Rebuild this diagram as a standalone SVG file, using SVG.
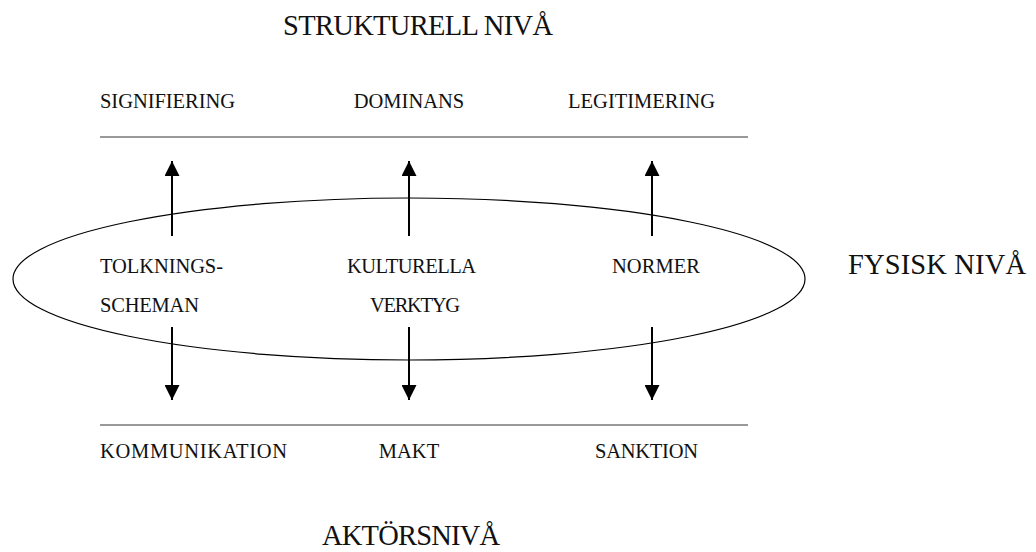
<svg xmlns="http://www.w3.org/2000/svg" width="1036" height="552" viewBox="0 0 1036 552">
<defs>
<style>
text{font-family:"Liberation Serif","Times New Roman",serif;fill:#111}
.s{font-size:20.5px}
.b{font-size:28.5px}
.m{text-anchor:middle}
.rule{stroke:#777;stroke-width:1.5}
.ar{stroke:#000;stroke-width:2}
</style>
<marker id="ah" viewBox="0 0 16 15" refX="15" refY="7.5" markerWidth="16" markerHeight="15" markerUnits="userSpaceOnUse" orient="auto">
<path d="M0,0 L15,7.5 L0,15 z" fill="#000"/>
</marker>
</defs>
<rect width="1036" height="552" fill="#fff"/>
<text class="b m" x="418" y="35" textLength="270">STRUKTURELL NIVÅ</text>
<text class="b" x="848" y="274" textLength="178">FYSISK NIVÅ</text>
<text class="b" x="322" y="545" textLength="178">AKTÖRSNIVÅ</text>
<line class="rule" x1="100" y1="137" x2="748" y2="137"/>
<line class="rule" x1="100" y1="425" x2="748" y2="425"/>
<g id="ellipse"><ellipse cx="409" cy="279" rx="396" ry="81" fill="none" stroke="#000" stroke-width="1.2"/></g>
<g id="connectors">
<line class="ar" x1="172" y1="236" x2="172" y2="161" marker-end="url(#ah)"/>
<line class="ar" x1="409" y1="236" x2="409" y2="161" marker-end="url(#ah)"/>
<line class="ar" x1="652" y1="236" x2="652" y2="161" marker-end="url(#ah)"/>
<line class="ar" x1="172" y1="327" x2="172" y2="400" marker-end="url(#ah)"/>
<line class="ar" x1="409" y1="327" x2="409" y2="400" marker-end="url(#ah)"/>
<line class="ar" x1="652" y1="327" x2="652" y2="400" marker-end="url(#ah)"/>
</g>
<g id="signifiering"><text class="s" x="100" y="108" textLength="135">SIGNIFIERING</text></g>
<g id="dominans"><text class="s m" x="409" y="108">DOMINANS</text></g>
<g id="legitimering"><text class="s" x="568" y="108" textLength="147">LEGITIMERING</text></g>
<g id="tolkningsscheman"><text class="s" x="100" y="273" textLength="123">TOLKNINGS-</text><text class="s" x="100" y="312" textLength="99">SCHEMAN</text></g>
<g id="kulturella"><text class="s" x="347" y="273" textLength="129">KULTURELLA</text><text class="s" x="370" y="312" textLength="90">VERKTYG</text></g>
<g id="normer"><text class="s" x="612" y="273" textLength="88">NORMER</text></g>
<g id="kommunikation"><text class="s" x="100" y="458" textLength="187">KOMMUNIKATION</text></g>
<g id="makt"><text class="s m" x="409" y="458">MAKT</text></g>
<g id="sanktion"><text class="s" x="595" y="458" textLength="103">SANKTION</text></g>
</svg>
